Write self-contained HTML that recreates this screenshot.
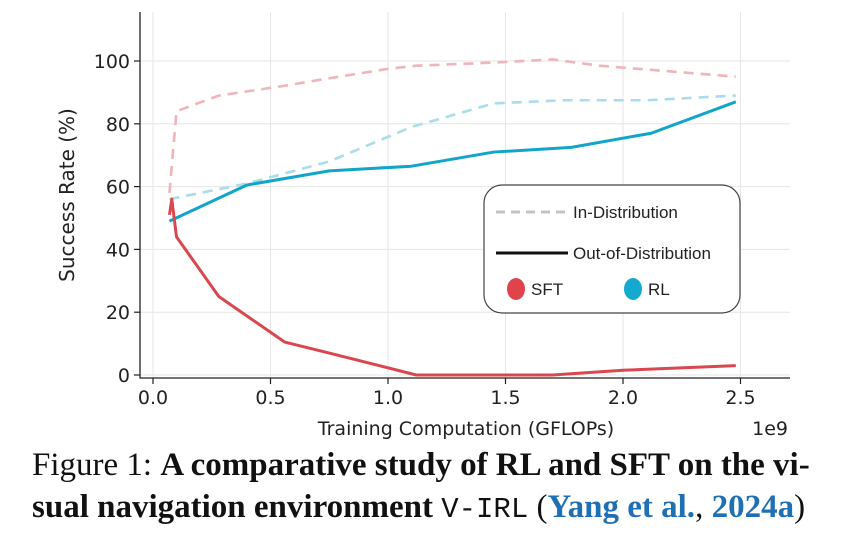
<!DOCTYPE html>
<html><head><meta charset="utf-8"><style>
body{margin:0;background:#fff;width:861px;height:534px;overflow:hidden;font-family:"DejaVu Sans","Liberation Sans",sans-serif}
#cap{position:absolute;left:32px;top:444px;font-family:"Liberation Serif",serif;font-size:33px;line-height:42px;color:#111;white-space:nowrap}
#cap b{font-weight:bold}
#cap .m{font-family:"Liberation Mono",monospace;font-weight:normal;font-size:29px}
#cap .c{color:#1f6fb4;font-weight:bold}
</style></head><body>
<svg id="chart" width="861" height="440" style="position:absolute;left:0;top:0" font-family="DejaVu Sans, Liberation Sans, sans-serif"></svg>
<div id="cap">Figure 1: <b>A comparative study of RL and SFT on the vi-<br>sual navigation environment</b> <span class="m">V-IRL</span> (<span class="c">Yang et al.</span>, <span class="c">2024a</span>)</div>
<script>
const xTicks=[0.0,0.5,1.0,1.5,2.0,2.5];
const yTicks=[0,20,40,60,80,100];
const sftIdX=[0.07,0.1,0.28,0.55,0.75,1.0,1.12,1.45,1.7,1.9,2.15,2.48];
const sftIdY=[58,84,89,92,94.5,97.5,98.5,99.5,100.5,98.5,97,95];
const rlIdX=[0.07,0.4,0.75,1.1,1.45,1.75,2.1,2.48];
const rlIdY=[56,61,68,79,86.5,87.5,87.5,89];
const rlOodX=[0.07,0.4,0.75,1.1,1.45,1.78,2.12,2.48];
const rlOodY=[49,60.5,65,66.5,71,72.5,77,87];
const sftOodX=[0.07,0.08,0.1,0.28,0.56,0.75,1.12,1.45,1.7,2.0,2.48];
const sftOodY=[51,56,44,25,10.5,7,0,0,0,1.5,3];
const NS='http://www.w3.org/2000/svg';
const svg=document.getElementById('chart');
const X=v=>153+v*235;
const Y=v=>375-v*3.14;
function mk(t,a){const e=document.createElementNS(NS,t);for(const k in a)e.setAttribute(k,a[k]);svg.appendChild(e);return e;}
xTicks.forEach(t=>{
 const g=mk('line',{x1:X(t),x2:X(t),y1:12,y2:378,stroke:'#e6e6e6','stroke-width':1});
 
 
 const tk=mk('line',{x1:X(t),x2:X(t),y1:378,y2:384,stroke:'#222','stroke-width':1.2});
 
 
 const l=mk('text',{x:X(t),y:404,'text-anchor':'middle','font-size':19,fill:'#222'});
 l.textContent=t.toFixed(1);
 
 
});
yTicks.forEach(t=>{
 const g=mk('line',{x1:140,x2:790,y1:Y(t),y2:Y(t),stroke:'#e6e6e6','stroke-width':1});
 
 
 const tk=mk('line',{x1:134,x2:140,y1:Y(t),y2:Y(t),stroke:'#222','stroke-width':1.2});
 
 
 const l=mk('text',{x:130,y:Y(t)+7,'text-anchor':'end','font-size':19,fill:'#222'});
 l.textContent=t;
 
 
});
const ax=mk('path',{d:'M140 12 V378 H790',fill:'none',stroke:'#222','stroke-width':1.3});


function line(xs,ys,col,w,dash,name,op){
 const p=mk('polyline',{points:xs.map((x,i)=>X(x)+','+Y(ys[i])).join(' '),fill:'none',stroke:col,'stroke-width':w,'stroke-dasharray':dash||'none','stroke-linejoin':'round',opacity:op});
 
 
}
line(sftIdX,sftIdY,'#f0b4bb',2.6,'10,7','sft-in-distribution-line',1);
line(rlIdX,rlIdY,'#a9dde9',2.6,'10,7','rl-in-distribution-line',1);
line(rlOodX,rlOodY,'#13a5c9',3,'','rl-out-of-distribution-line',1);
line(sftOodX,sftOodY,'#d9474f',3,'','sft-out-of-distribution-line',1);
const yt=mk('text',{x:0,y:0,'font-size':20,fill:'#222','text-anchor':'middle',transform:'translate(74,195) rotate(-90)'});
yt.textContent='Success Rate (%)';


const xt=mk('text',{x:466,y:435,'font-size':19,fill:'#222','text-anchor':'middle'});
xt.textContent='Training Computation (GFLOPs)';


const ex=mk('text',{x:788,y:435,'font-size':19,fill:'#222','text-anchor':'end'});
ex.textContent='1e9';


const lg=mk('rect',{x:484,y:185,width:256,height:128,rx:18,fill:'#fff',stroke:'#444','stroke-width':1.2});


const l1=mk('line',{x1:496,x2:568,y1:212,y2:212,stroke:'#c4c4c4','stroke-width':3,'stroke-dasharray':'9,6'});


const t1=mk('text',{x:573,y:218,'font-family':'Liberation Sans, sans-serif','font-size':17,fill:'#222'});
t1.textContent='In-Distribution';


const l2=mk('line',{x1:496,x2:568,y1:253,y2:253,stroke:'#111','stroke-width':3});


const t2=mk('text',{x:573,y:259,'font-family':'Liberation Sans, sans-serif','font-size':17,fill:'#222'});
t2.textContent='Out-of-Distribution';


const c1=mk('ellipse',{cx:516,cy:289,rx:9,ry:11,fill:'#e0434b'});


const t3=mk('text',{x:531,y:295,'font-family':'Liberation Sans, sans-serif','font-size':17,fill:'#222'});
t3.textContent='SFT';


const c2=mk('ellipse',{cx:633,cy:289,rx:9,ry:11,fill:'#16a9d0'});


const t4=mk('text',{x:648,y:295,'font-family':'Liberation Sans, sans-serif','font-size':17,fill:'#222'});
t4.textContent='RL';


</script>
</body></html>
